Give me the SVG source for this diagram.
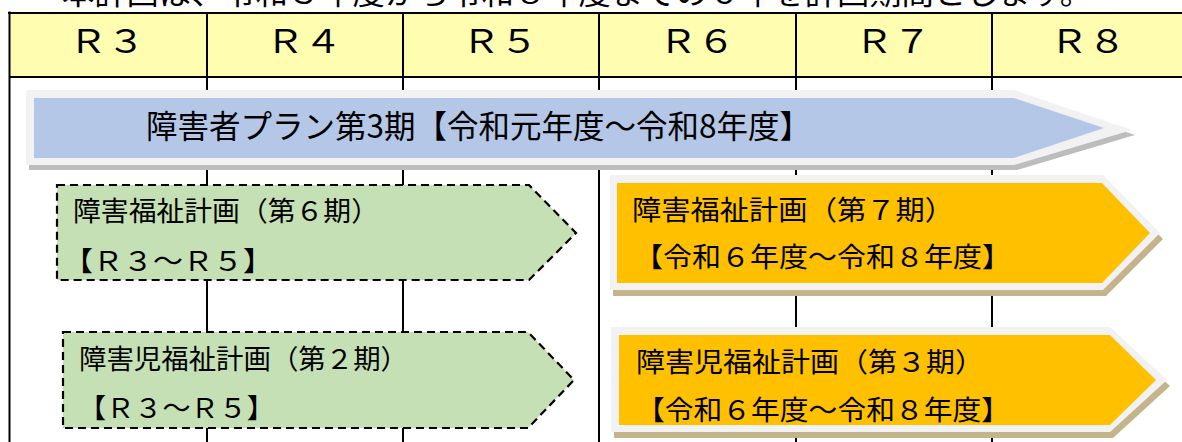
<svg xmlns="http://www.w3.org/2000/svg" width="1182" height="442" viewBox="0 0 1182 442">
  <style>
    text { font-family: "Noto Sans CJK JP", "Noto Sans", sans-serif; fill: #000; }
    .hdr { font-size: 32px; text-anchor: middle; }
    .title { font-size: 32px; }
    .lbl { font-size: 27px; }
    .grid { stroke: #000; stroke-width: 2; fill: none; }
    .frame { fill: #F2F2F2; }
    .shadowG { fill: #BDBDBD; }
    .shadowT { fill: #C4B48C; }
    .green { fill: #C5E0B4; stroke: #000; stroke-width: 2.2; stroke-dasharray: 8 5; }
    .orange { fill: #FFC000; }
  </style>

  <rect width="1182" height="442" fill="#FFFFFF"/>

  <!-- clipped text line at top -->
  <text x="62" y="4" font-size="30" textLength="1030" lengthAdjust="spacingAndGlyphs">本計画は、令和３年度から令和８年度までの６年を計画期間とします。</text>

  <!-- table grid -->
  <g id="table">
    <rect x="10" y="13" width="1180" height="64" fill="#FFFDAF"/>
    <line class="grid" x1="9.5" y1="11.5" x2="9.5" y2="442" stroke-width="3"/>
    <line class="grid" x1="8" y1="13" x2="1182" y2="13" stroke-width="3"/>
    <line class="grid" x1="9" y1="77" x2="1182" y2="77"/>
    <line class="grid" x1="207" y1="13" x2="207" y2="442"/>
    <line class="grid" x1="403" y1="13" x2="403" y2="442"/>
    <line class="grid" x1="599" y1="13" x2="599" y2="442"/>
    <line class="grid" x1="796" y1="13" x2="796" y2="442"/>
    <line class="grid" x1="992" y1="13" x2="992" y2="442"/>
    <text class="hdr" x="107" y="53" textLength="76" lengthAdjust="spacingAndGlyphs">Ｒ３</text>
    <text class="hdr" x="304" y="53" textLength="76" lengthAdjust="spacingAndGlyphs">Ｒ４</text>
    <text class="hdr" x="500" y="53" textLength="76" lengthAdjust="spacingAndGlyphs">Ｒ５</text>
    <text class="hdr" x="697" y="53" textLength="76" lengthAdjust="spacingAndGlyphs">Ｒ６</text>
    <text class="hdr" x="893" y="53" textLength="76" lengthAdjust="spacingAndGlyphs">Ｒ７</text>
    <text class="hdr" x="1088" y="53" textLength="76" lengthAdjust="spacingAndGlyphs">Ｒ８</text>
  </g>

  <g id="connectors"/>

  <!-- 障害者プラン第3期 -->
  <g id="plan3">
    <polygon class="shadowG" transform="translate(3,5)" points="26,90 1014,90 1132,130 1014,165 26,165"/>
    <polygon class="frame" points="26,90 1014,90 1132,130 1014,165 26,165"/>
    <polygon fill="#B4C7E7" points="34,98 1014,98 1104,128 1014,158 34,158"/>
    <text class="title" x="146" y="138" textLength="665" lengthAdjust="spacingAndGlyphs">障害者プラン第3期【令和元年度～令和8年度】</text>
  </g>

  <!-- 障害福祉計画（第６期） -->
  <g id="welfare6">
    <polygon class="green" points="57,185 529,185 576,233 529,280 57,280"/>
    <text class="lbl" x="73" y="221" textLength="306" lengthAdjust="spacingAndGlyphs">障害福祉計画（第６期）</text>
    <text class="lbl" x="63" y="271" textLength="210" lengthAdjust="spacingAndGlyphs">【Ｒ３～Ｒ５】</text>
  </g>

  <!-- 障害福祉計画（第７期） -->
  <g id="welfare7">
    <polygon class="shadowT" transform="translate(3,6)" points="610,175 1103,175 1160,233 1103,290 610,290"/>
    <polygon class="frame" points="610,175 1103,175 1160,233 1103,290 610,290"/>
    <polygon class="orange" points="617,183 1102,183 1150,233 1102,283 617,283"/>
    <text class="lbl" x="632" y="220" textLength="322" lengthAdjust="spacingAndGlyphs">障害福祉計画（第７期）</text>
    <text class="lbl" x="634" y="267" textLength="377" lengthAdjust="spacingAndGlyphs">【令和６年度～令和８年度】</text>
  </g>

  <!-- 障害児福祉計画（第２期） -->
  <g id="child2">
    <polygon class="green" points="63,332 528,332 574,380 528,428 63,428"/>
    <text class="lbl" x="79" y="369" textLength="329" lengthAdjust="spacingAndGlyphs">障害児福祉計画（第２期）</text>
    <text class="lbl" x="78" y="418" textLength="197" lengthAdjust="spacingAndGlyphs">【Ｒ３～Ｒ５】</text>
  </g>

  <!-- 障害児福祉計画（第３期） -->
  <g id="child3">
    <polygon class="shadowT" transform="translate(3,6)" points="611,327 1110,327 1167,380 1110,432 611,432"/>
    <polygon class="frame" points="611,327 1110,327 1167,380 1110,432 611,432"/>
    <polygon class="orange" points="619,335 1110,335 1156,380 1110,425 619,425"/>
    <text class="lbl" x="636" y="372" textLength="348" lengthAdjust="spacingAndGlyphs">障害児福祉計画（第３期）</text>
    <text class="lbl" x="636" y="420" textLength="374" lengthAdjust="spacingAndGlyphs">【令和６年度～令和８年度】</text>
  </g>
</svg>
